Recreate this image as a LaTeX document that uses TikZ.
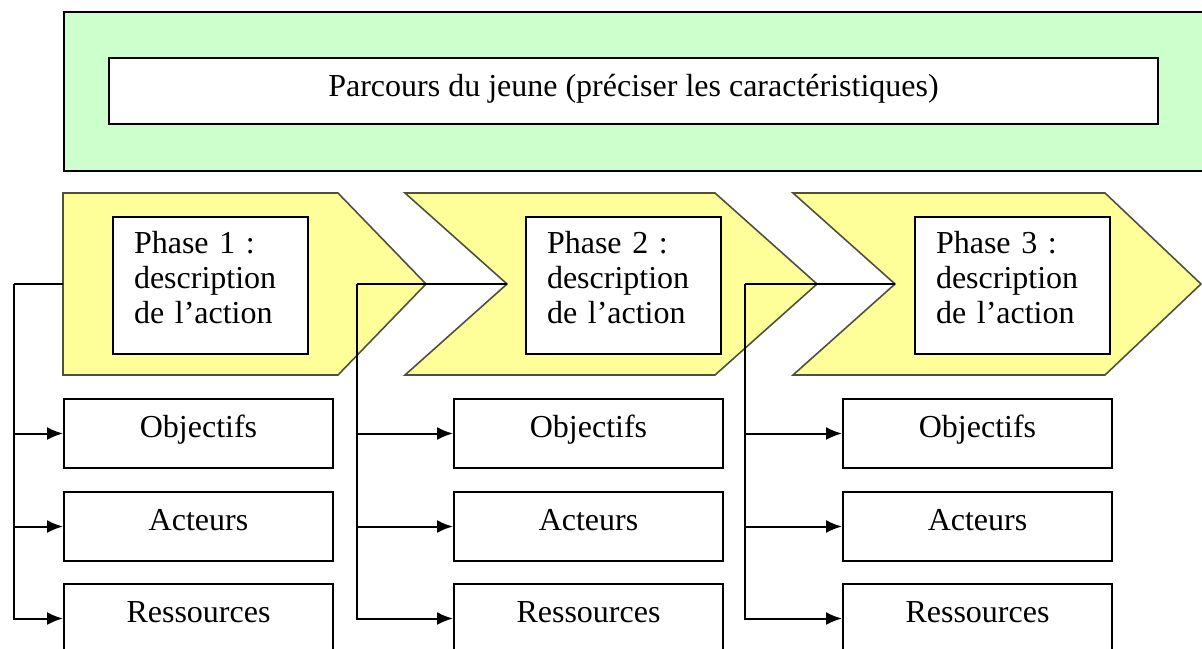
\documentclass[tikz,border=0pt]{standalone}
\usepackage{fontspec}
\setmainfont{Liberation Serif}
\usetikzlibrary{arrows.meta}
\definecolor{bandgreen}{RGB}{204,255,204}
\definecolor{chevyellow}{RGB}{255,255,153}
\definecolor{chevedge}{RGB}{80,80,65}
\tikzset{
  band/.style={draw=black,line width=1pt,fill=bandgreen,anchor=north west,inner sep=0pt,
    minimum width=576pt,minimum height=79.5pt},
  titlebox/.style={draw=black,line width=1pt,fill=white,anchor=north west,inner sep=0pt,
    minimum width=524.5pt,minimum height=33pt,text height=19pt,text depth=14pt,
    font=\fontsize{16pt}{17.5pt}\selectfont},
  chev/.style={draw=chevedge,line width=0.8pt,fill=chevyellow,line join=miter},
  phasebox/.style={draw=black,line width=1pt,fill=white,anchor=north west,
    minimum width=97.5pt,minimum height=68.5pt,inner xsep=10.5pt,inner ysep=0pt,
    text width=76.5pt,align=left,font=\fontsize{16pt}{17.5pt}\selectfont},
  itembox/.style={draw=black,line width=1pt,fill=white,anchor=north west,inner sep=0pt,
    minimum width=134.5pt,minimum height=34.5pt,text height=19pt,text depth=15.5pt,
    font=\fontsize{16pt}{17.5pt}\selectfont},
  conn/.style={draw=black,line width=1pt},
  arr/.style={conn,-{Latex[length=8pt,width=6.5pt]}}
}
\begin{document}
\begin{tikzpicture}[x=0.5pt,y=-0.5pt]
\useasboundingbox (0,0) rectangle (1202,648);
\clip (0,0) rectangle (1202,648);
% top band
\node[band] (band) at (63,11) {};
\node[titlebox] (title) at (108,57) {Parcours du jeune (préciser les caractéristiques)};
% chevrons
\draw[chev] (63,193) -- (338,193) -- (426,284) -- (338,375) -- (63,375) -- cycle;
\draw[chev] (405,193) -- (715,193) -- (817,284) -- (715,375) -- (405,375) -- (507,284) -- cycle;
\draw[chev] (793,193) -- (1105,193) -- (1201,284) -- (1105,375) -- (793,375) -- (895,284) -- cycle;
\coordinate (c1) at (63,284);
\coordinate (c2) at (507,284);
\coordinate (c3) at (895,284);
\coordinate (k1) at (14,284);
\coordinate (k2) at (357,284);
\coordinate (k3) at (745,284);
% item boxes
\foreach \i/\x in {1/63,2/453,3/842}{
  \node[itembox] (o\i) at (\x,398) {Objectifs};
  \node[itembox] (a\i) at (\x,491) {Acteurs};
  \node[itembox] (r\i) at (\x,583) {Ressources};
}
% connectors
\foreach \i in {1,2,3}{
  \draw[conn] (c\i) -- (k\i);
  \draw[arr] (k\i) |- (o\i.west);
  \draw[arr] (k\i) |- (a\i.west);
  \draw[arr] (k\i) |- (r\i.west);
}
% phase boxes
\node[phasebox] (p1) at (112,216) {Phase 1 :\\description\\de l’action\rule[-8.5pt]{0pt}{0pt}};
\node[phasebox] (p2) at (525,216) {Phase 2 :\\description\\de l’action\rule[-8.5pt]{0pt}{0pt}};
\node[phasebox] (p3) at (914,216) {Phase 3 :\\description\\de l’action\rule[-8.5pt]{0pt}{0pt}};
\end{tikzpicture}
\end{document}
